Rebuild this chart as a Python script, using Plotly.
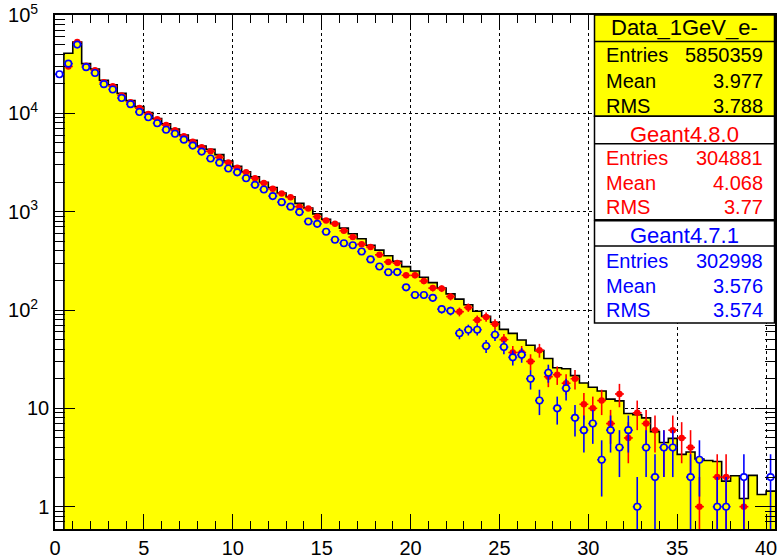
import math
import plotly.graph_objects as go

# ---------------- data ----------------
bin_width = 0.5
x_range = [0.0, 40.5]

data_1gev = [None, 40900, 53200, 32000, 28200, 21700, 19500, 15950, 13460, 11700,
             10200, 8870, 7810, 6920, 6030, 5320, 4640, 4310, 3800, 3270,
             2890, 2550, 2260, 1995, 1760, 1550, 1420, 1215, 1090, 950,
             838, 760, 681, 597, 531, 456, 406, 356, 312, 276,
             249, 215, 190, 167, 146, 129, 113, 97, 86.5, 75,
             63.5, 57.8, 49.5, 43.8, 38.6, 32.1, 25.9, 25.3, 21.5, 18.1,
             16.4, 15.0, 12.4, 11.9, 8.85, 8.6, 8.0, 5.8, 4.5, 4.95,
             3.4, 3.6, 3.05, 2.95, 2.88, 1.82, 2.06, 1.21, 2.08, 1.33,
             1.44]

g4_80 = [None, 30000, 53000, 30500, 27400, 20700, 18900, 15200, 13000, 11300,
         9860, 8720, 7590, 6710, 5840, 5150, 4530, 4120, 3570, 3160,
         2800, 2510, 2190, 1960, 1710, 1530, 1400, 1125, 1075, 890,
         813, 752, 640, 552, 467, 438, 364, 308, 300, 225,
         225, 197, 167, 165, 137, 96, 106, 79, 85, 72,
         50, 37, 37, 30, 39, 21, 22, 18, 20, 11,
         10, 12, 7, 14, 5, 9, 7, 6, 4, 6,
         5, 4, 1, None, 2, 2, None, 1, None, None,
         None]

g4_71 = [25000, 32000, 50000, 29500, 25700, 19800, 17500, 14300, 12400, 10300,
         9120, 7940, 6800, 6210, 5400, 4700, 4080, 3470, 3150, 2750,
         2510, 2190, 1875, 1680, 1440, 1250, 1125, 990, 795, 752,
         625, 519, 478, 456, 393, 327, 277, 242, 243, 170,
         142, 142, 133, 102, 98, 58, 63, 63, 43, 56,
         42, 33, 35, 20, 12, 23, 10, 16, 8, 6,
         7, 3, 6, 4, 6, 1, 4, 2, 4, 4,
         None, 2, 3, None, 1, 1, None, 2, None, None,
         2]

stats = [
    ("Data_1GeV_e-", "#000000", "#ffff00", [("Entries", "5850359"), ("Mean", "3.977"), ("RMS", "3.788")]),
    ("Geant4.8.0", "#ff0000", "#ffffff", [("Entries", "304881"), ("Mean", "4.068"), ("RMS", "3.77")]),
    ("Geant4.7.1", "#0000ff", "#ffffff", [("Entries", "302998"), ("Mean", "3.576"), ("RMS", "3.574")]),
]

y_tickvals = [1, 10, 100, 1000, 10000, 100000]
y_ticktext = ["1", "10", "10<sup>2</sup>\u00a0\u00a0", "10<sup>3</sup>\u00a0\u00a0",
              "10<sup>4</sup>\u00a0\u00a0", "10<sup>5</sup>\u00a0\u00a0"]

# ---------------- figure ----------------
FONT = "Liberation Sans, Arial, Helvetica, sans-serif"
n = len(data_1gev)
centers = [bin_width * (i + 0.5) for i in range(n)]
edges = [bin_width * i for i in range(n + 1)]

fig = go.Figure()

# filled histogram
fig.add_trace(go.Bar(x=centers, y=data_1gev, width=bin_width,
                     marker=dict(color="#ffff00", line=dict(width=0)),
                     showlegend=False, hoverinfo="skip"))
# outline of the histogram
outline_y = [v if v else 1e-3 for v in data_1gev]
fig.add_trace(go.Scatter(x=edges[1:], y=outline_y, mode="lines",
                         line=dict(color="black", width=1.6, shape="vh"),
                         showlegend=False, hoverinfo="skip"))


def err_trace(vals, color, open_marker):
    xs, ys, ep, em, fills = [], [], [], [], []
    for c, v, h in zip(centers, vals, data_1gev):
        if v is None:
            continue
        xs.append(c)
        ys.append(v)
        e = math.sqrt(v)
        ep.append(e)
        em.append(min(e, v * 0.9999))
        if open_marker:
            fills.append("#ffff00" if (h is not None and v < h) else "#ffffff")
        else:
            fills.append(color)
    return go.Scatter(
        x=xs, y=ys, mode="markers",
        marker=dict(symbol="circle", size=6.5 if open_marker else 6.5, color=fills,
                    line=dict(color=color, width=1.6 if open_marker else 0)),
        error_y=dict(type="data", array=ep, arrayminus=em, symmetric=False,
                     color=color, thickness=1.6, width=0),
        error_x=dict(type="constant", value=bin_width / 2, color=color,
                     thickness=1.6, width=0),
        showlegend=False, hoverinfo="skip")


fig.add_trace(err_trace(g4_80, "#ff0000", False))
fig.add_trace(err_trace(g4_71, "#0000ff", True))

# ---------------- layout ----------------
L, R, T, B = 55, 1, 15, 26
W, H = 778, 560
fig.update_layout(
    width=W, height=H,
    margin=dict(l=L, r=R, t=T, b=B, pad=0),
    plot_bgcolor="white", paper_bgcolor="white",
    font=dict(family=FONT, size=20, color="black"),
    bargap=0,
    xaxis=dict(range=x_range, dtick=5, tick0=0,
               showline=True, linecolor="black", linewidth=1.5, mirror="allticks",
               ticks="inside", ticklen=15, tickwidth=1.2, tickcolor="black",
               showgrid=True, gridcolor="black", griddash="dot", gridwidth=1,
               zeroline=False,
               minor=dict(ticks="inside", ticklen=8, tickwidth=1.2, tickcolor="black",
                          dtick=1, showgrid=False),
               tickfont=dict(size=20)),
    yaxis=dict(type="log", range=[-0.227, 5.0],
               tickvals=y_tickvals, ticktext=y_ticktext,
               showline=True, linecolor="black", linewidth=1.5, mirror="allticks",
               ticks="inside", ticklen=20, tickwidth=1.2, tickcolor="black",
               showgrid=True, gridcolor="black", griddash="dot", gridwidth=1,
               zeroline=False,
               minor=dict(ticks="inside", ticklen=10, tickwidth=1.2, tickcolor="black",
                          dtick="D1", showgrid=False),
               tickfont=dict(size=20)),
)

# ---------------- stats boxes ----------------
pw = W - L - R
ph = H - T - B


def px(xp):
    return (xp - L) / pw


def py(yp):
    return (H - B - yp) / ph


box_x0, box_x1 = 596, 776.5
box_tops = [15, 117.3, 222.7]
box_divs = [41.7, 145, 248.3]
box_bots = [117.3, 221.7, 326]
title_y = [28, 136, 237.3]
row_y = [[55, 81.7, 107.3], [159.3, 184.3, 209.3], [263.3, 288.3, 313.3]]

shapes = []
annotations = []
for k, (title, tcol, bg, rows) in enumerate(stats):
    shapes.append(dict(type="rect", xref="paper", yref="paper",
                       x0=px(box_x0), x1=px(box_x1), y0=py(box_bots[k]), y1=py(box_tops[k]),
                       fillcolor=bg, line=dict(color="black", width=1.5), layer="above"))
    shapes.append(dict(type="line", xref="paper", yref="paper",
                       x0=px(box_x0), x1=px(box_x1), y0=py(box_divs[k]), y1=py(box_divs[k]),
                       line=dict(color="black", width=1.5), layer="above"))
    annotations.append(dict(text=title, xref="paper", yref="paper",
                            x=px((box_x0 + box_x1) / 2), y=py(title_y[k]),
                            xanchor="center", yanchor="middle", showarrow=False,
                            font=dict(family=FONT, size=22, color=tcol)))
    for j, (lab, val) in enumerate(rows):
        annotations.append(dict(text=lab, xref="paper", yref="paper",
                                x=px(606), y=py(row_y[k][j]),
                                xanchor="left", yanchor="middle", showarrow=False,
                                font=dict(family=FONT, size=20, color=tcol)))
        annotations.append(dict(text=val, xref="paper", yref="paper",
                                x=px(767), y=py(row_y[k][j]),
                                xanchor="right", yanchor="middle", showarrow=False,
                                font=dict(family=FONT, size=20, color=tcol)))

fig.update_layout(shapes=shapes, annotations=annotations)

fig.write_html("out.html")
